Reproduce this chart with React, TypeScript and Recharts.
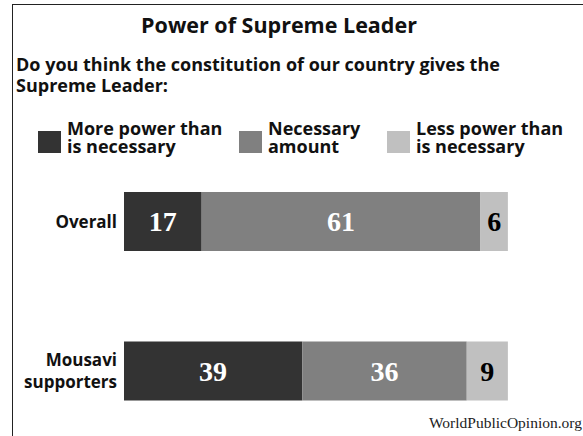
import React from 'react';
import { BarChart, Bar, XAxis, YAxis, LabelList } from 'recharts';

// survey answers, percent of respondents
const categories = ['Overall', 'Mousavi\nsupporters'];
const morePower = [17, 39];
const necessaryAmount = [61, 36];
const lessPower = [6, 9];

const series = [
  { key: 'more', name: 'More power than\nis necessary', color: '#333333', labelColor: '#ffffff' },
  { key: 'necessary', name: 'Necessary\namount', color: '#808080', labelColor: '#ffffff' },
  { key: 'less', name: 'Less power than\nis necessary', color: '#c0c0c0', labelColor: '#000000' },
];

const data = categories.map((category, i) => ({
  category,
  more: morePower[i],
  necessary: necessaryAmount[i],
  less: lessPower[i],
}));

const SANS = '"Open Sans", "DejaVu Sans", sans-serif';
const SERIF = '"Liberation Serif", "DejaVu Serif", serif';

const CategoryTick = (props: any) => {
  const { x, y, payload } = props;
  const lines = String(payload.value).split('\n');
  const first = -(lines.length - 1) * 11 + 6;
  return (
    <text x={x} y={y} textAnchor="end" fontFamily={SANS} fontWeight={700} fontSize={17} fill="#111">
      {lines.map((line, i) => (
        <tspan key={line} x={x} y={y + first + i * 22}>
          {line}
        </tspan>
      ))}
    </text>
  );
};

// left edge of each legend swatch
const legendX = [38, 239, 387];

const LegendBlock = () => (
  <g>
    {series.map((s, i) => (
      <g key={s.key}>
        <rect x={legendX[i]} y={131} width={23} height={22} fill={s.color} />
        <text fontFamily={SANS} fontWeight={700} fontSize={18} fill="#111">
          {s.name.split('\n').map((line, j) => (
            <tspan key={line} x={legendX[i] + 29} y={135 + j * 18}>
              {line}
            </tspan>
          ))}
        </text>
      </g>
    ))}
  </g>
);

export default function App() {
  return (
    <div style={{ position: 'absolute', left: 0, top: 0, width: 583, height: 436, overflow: 'hidden', background: '#fff' }}>
      <div style={{ position: 'absolute', left: 12, top: 4, right: 0, bottom: 0, borderTop: '1.5px solid #222', borderLeft: '1.5px solid #222' }} />
      <BarChart
        width={583}
        height={446}
        data={data}
        layout="vertical"
        margin={{ top: 147, right: 2, bottom: 0, left: 0 }}
      >
        <text x={279} y={33} textAnchor="middle" fontFamily={SANS} fontWeight={700} fontSize={21.5} fill="#111">
          Power of Supreme Leader
        </text>
        <text fontFamily={SANS} fontWeight={700} fontSize={18} fill="#111">
          <tspan x={16} y={71}>Do you think the constitution of our country gives the</tspan>
          <tspan x={16} y={92}>Supreme Leader:</tspan>
        </text>
        <LegendBlock />
        <text x={582} y={428} textAnchor="end" fontFamily={SERIF} fontSize={15.5} fill="#222">
          WorldPublicOpinion.org
        </text>
        <XAxis type="number" domain={[0, 100]} hide />
        <YAxis
          type="category"
          dataKey="category"
          width={124}
          axisLine={false}
          tickLine={false}
          tickMargin={1}
          tick={<CategoryTick />}
        />
        {series.map((s) => (
          <Bar key={s.key} dataKey={s.key} name={s.name} stackId="a" fill={s.color} barSize={59} isAnimationActive={false}>
            <LabelList
              dataKey={s.key}
              position="center"
              fill={s.labelColor}
              fontFamily={SERIF}
              fontWeight={700}
              fontSize={28}
            />
          </Bar>
        ))}
      </BarChart>
    </div>
  );
}
